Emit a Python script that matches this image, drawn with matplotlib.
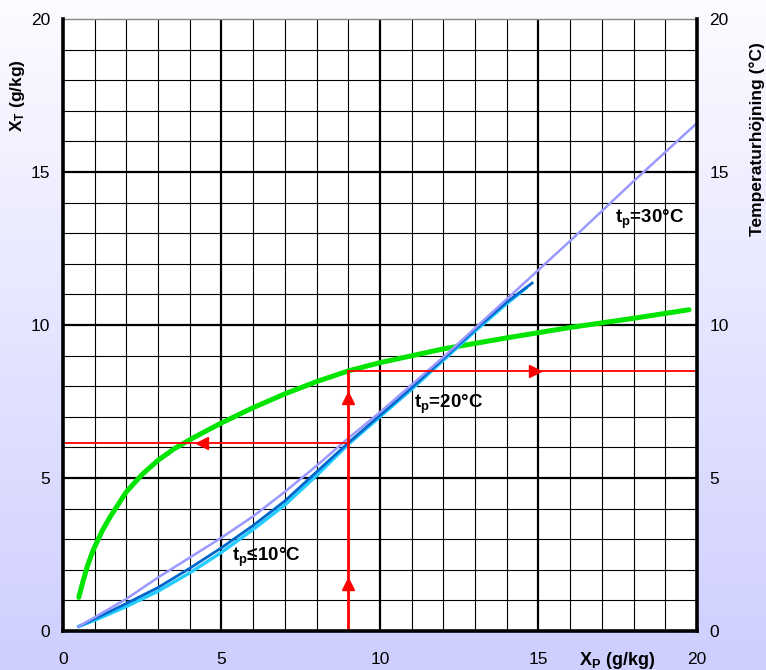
import numpy as np
import matplotlib.pyplot as plt

# * Data
green_x = [0.5, 0.6, 0.75, 0.9, 1, 1.25, 1.5, 2, 2.5, 3, 3.5, 4, 4.5, 5, 6, 7, 8, 9, 10, 12, 14, 16, 18, 19.75]
green_y = [1.1, 1.5, 2.05, 2.5, 2.75, 3.3, 3.75, 4.55, 5.12, 5.58, 5.95, 6.25, 6.53, 6.8, 7.3, 7.75, 8.15, 8.5, 8.77, 9.22, 9.58, 9.92, 10.22, 10.5]

t30_x = [0.5, 1, 2, 3, 4, 5, 6, 7, 8, 9, 10, 12, 14, 15, 16, 18, 20]
t30_y = [0.15, 0.45, 1.05, 1.75, 2.4, 3.05, 3.75, 4.55, 5.4, 6.3, 7.15, 8.95, 10.85, 11.8, 12.75, 14.7, 16.6]

t20_x = [0.5, 1, 2, 3, 4, 5, 6, 7, 8, 9, 10, 11, 12, 13, 14, 14.8]
t20_y = [0.15, 0.4, 0.9, 1.42, 2.05, 2.72, 3.45, 4.25, 5.2, 6.15, 7.05, 7.95, 8.9, 9.85, 10.75, 11.37]

t10_x = [0.5, 1, 2, 3, 4, 5, 6, 7, 8, 9, 10, 11, 12, 13, 14, 14.6]
t10_y = [0.15, 0.35, 0.8, 1.3, 1.9, 2.57, 3.32, 4.12, 5.08, 6.1, 7.0, 7.9, 8.85, 9.8, 10.7, 11.2]

# example reading: X_P = 9 -> X_T = 6.15, temperature rise 8.5
xp_read = 9
xt_read = 6.15
temp_read = 8.5

labels = ['t$_p$≤10°C', 't$_p$=20°C', 't$_p$=30°C']
label_pos = [(6.4, 2.4), (12.15, 7.4), (18.5, 13.45)]

ticks = [0, 5, 10, 15, 20]

plt.rcParams['font.family'] = ['Liberation Sans', 'DejaVu Sans']
plt.rcParams['mathtext.fontset'] = 'custom'
plt.rcParams['mathtext.rm'] = 'Liberation Sans'
plt.rcParams['mathtext.bf'] = 'Liberation Sans:bold'
plt.rcParams['mathtext.default'] = 'bf'

fig = plt.figure(figsize=(7.66, 6.70), dpi=100)

# gradient background
bg = fig.add_axes([0, 0, 1, 1], zorder=-5)
grad = np.linspace(0, 1, 256).reshape(-1, 1)
top = np.array([0.985, 0.985, 1.0])
bot = np.array([0.81, 0.81, 1.0])
img = top[None, None, :] * (1 - grad[:, :, None]) + bot[None, None, :] * grad[:, :, None]
bg.imshow(img, aspect='auto', extent=[0, 1, 0, 1])
bg.axis('off')

ax = fig.add_axes([0.0822, 0.0582, 0.8277, 0.9134])
ax.set_facecolor('white')
ax.set_xlim(0, 20)
ax.set_ylim(0, 20)

# grid
for v in range(1, 20):
    lw = 1.6 if v % 5 == 0 else 0.8
    ax.axvline(v, color='black', lw=lw, zorder=1)
    ax.axhline(v, color='black', lw=lw, zorder=1)

for side in ['left', 'right', 'bottom']:
    ax.spines[side].set_linewidth(2.6)
    ax.spines[side].set_zorder(6)
ax.spines['top'].set_linewidth(1.0)
ax.spines['top'].set_color('#888888')

ax.set_xticks(ticks)
ax.set_yticks(ticks)
ax.tick_params(axis='both', length=0, labelsize=12.5)
ax.tick_params(axis='x', pad=15)
ax.tick_params(axis='y', pad=9, labelright=True, right=False)

# curves
ax.plot(green_x, green_y, color='#00E400', lw=3.6, solid_capstyle='round',
        solid_joinstyle='round', zorder=3)
ax.plot(t10_x, t10_y, color='#22CCFF', lw=2.4, solid_joinstyle='round', zorder=3)
ax.plot(t20_x, t20_y, color='#0066CC', lw=2.0, solid_joinstyle='round', zorder=4)
ax.plot(t30_x, t30_y, color='#9999FF', lw=1.8, solid_joinstyle='round', zorder=4)

# red reading lines
ax.plot([xp_read, xp_read], [0, temp_read], color='#FF0000', lw=2.0, zorder=5)
ax.plot([xp_read, 20], [temp_read, temp_read], color='#FF0000', lw=1.3, zorder=5)
ax.plot([0, xp_read], [xt_read, xt_read], color='#FF0000', lw=1.3, zorder=5)
ax.plot([xp_read, xp_read], [1.55, 7.6], ls='none', marker='^', ms=9, color='#FF0000', zorder=5)
ax.plot([14.9], [temp_read], ls='none', marker='>', ms=9, color='#FF0000', zorder=5)
ax.plot([4.4], [xt_read], ls='none', marker='<', ms=9, color='#FF0000', zorder=5)

for txt, (lx, ly) in zip(labels, label_pos):
    ax.text(lx, ly, txt, fontsize=13.5, fontweight='bold', ha='center', va='center', zorder=7)

# axis titles
fig.text(0.805, 0.014, 'X$_P$ (g/kg)', fontsize=13, fontweight='bold', ha='center', va='center')
fig.text(0.023, 0.858, 'X$_T$ (g/kg)', fontsize=12.5, fontweight='bold', rotation=90,
         ha='center', va='center')
fig.text(0.988, 0.792, 'Temperaturhöjning (°C)', fontsize=12.5, fontweight='bold', rotation=90,
         ha='center', va='center')

fig.savefig('out.png', dpi=100)
